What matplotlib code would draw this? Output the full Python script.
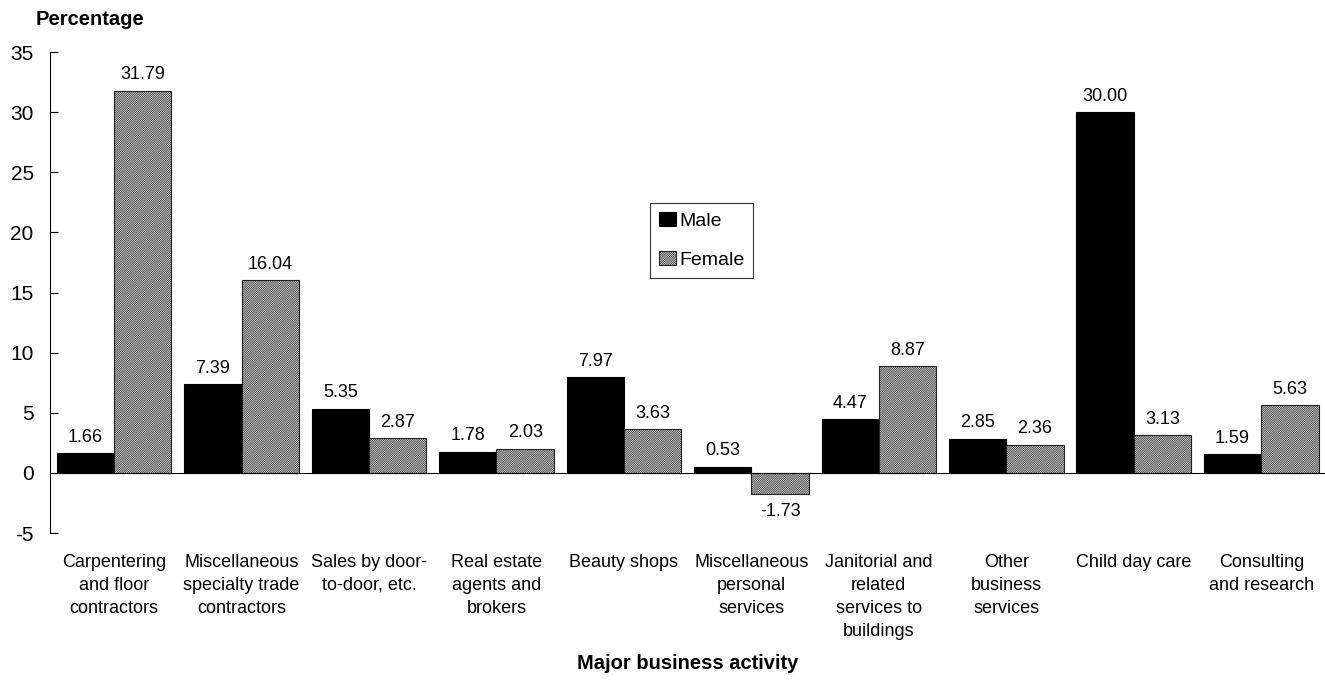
import numpy as np
import matplotlib
matplotlib.use("Agg")
from matplotlib import pyplot as plt

plt.rcParams['font.family'] = ['Liberation Sans', 'DejaVu Sans']
plt.rcParams['hatch.linewidth'] = 0.5
plt.rcParams['hatch.color'] = '#666666'
plt.rcParams['axes.unicode_minus'] = False

categories = ["Carpentering\nand floor\ncontractors",
              "Miscellaneous\nspecialty trade\ncontractors",
              "Sales by door-\nto-door, etc.",
              "Real estate\nagents and\nbrokers",
              "Beauty shops",
              "Miscellaneous\npersonal\nservices",
              "Janitorial and\nrelated\nservices to\nbuildings",
              "Other\nbusiness\nservices",
              "Child day care",
              "Consulting\nand research"]
male = [1.66, 7.39, 5.35, 1.78, 7.97, 0.53, 4.47, 2.85, 30.00, 1.59]
female = [31.79, 16.04, 2.87, 2.03, 3.63, -1.73, 8.87, 2.36, 3.13, 5.63]

x = np.arange(len(categories))
w = 0.45

fig = plt.figure(figsize=(13.25, 6.8), dpi=100)
ax = fig.add_axes([0.038, 0.216, 0.962, 0.7075])

b1 = ax.bar(x - w/2, male, w, color='black', edgecolor='black', linewidth=0.8, label='Male')
b2 = ax.bar(x + w/2, female, w, color='white', edgecolor='#222222', linewidth=0.8,
            hatch='/' * 18, label='Female')

for bars, vals in [(b1, male), (b2, female)]:
    for b, v in zip(bars, vals):
        cx = b.get_x() + b.get_width()/2
        if v >= 0:
            ax.text(cx, v + 0.6, f"{v:.2f}", ha='center', va='bottom', fontsize=13)
        else:
            ax.text(cx, v - 0.8, f"{v:.2f}", ha='center', va='top', fontsize=13)

ax.axhline(0, color='black', linewidth=0.8)
ax.set_xlim(-0.5, len(categories) - 0.5)
ax.set_ylim(-5, 35)
ax.set_yticks(range(-5, 36, 5))
ax.tick_params(axis='y', labelsize=15, length=6, direction='in', pad=12)
ax.set_xticks(x)
ax.set_xticklabels(categories, fontsize=13, linespacing=1.45)
ax.tick_params(axis='x', length=0, pad=15)
for s in ['top', 'right', 'bottom']:
    ax.spines[s].set_visible(False)
ax.spines['left'].set_linewidth(0.8)

fig.text(0.027, 0.971, "Percentage", fontsize=14.5, fontweight='bold', ha='left', va='center')
fig.text(0.519, 0.024, "Major business activity", fontsize=14.5, fontweight='bold', ha='center', va='center')

leg = ax.legend(loc='upper left', bbox_to_anchor=(0.4706, 0.686), fontsize=14,
                frameon=True, fancybox=False, edgecolor='black',
                handlelength=0.9, handleheight=0.75, handletextpad=0.15,
                labelspacing=1.1, borderpad=0.45, borderaxespad=0)
leg.get_frame().set_linewidth(0.8)

fig.savefig("out.png", dpi=100)
